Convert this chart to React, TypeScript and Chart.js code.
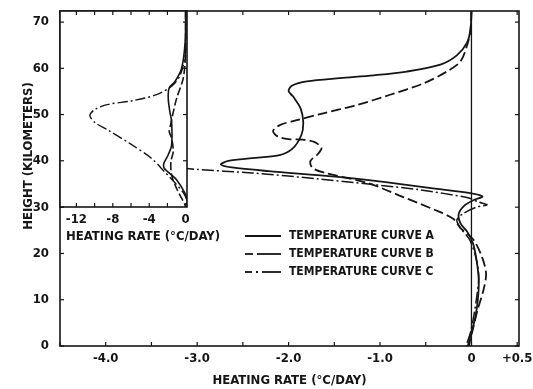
import React, { useEffect, useRef } from "react";
import { Chart, registerables } from "chart.js";

Chart.register(...registerables);

const INK = "#151515";
const FONT_FAMILY = "'Liberation Sans Narrow', 'DejaVu Sans Condensed', 'Liberation Sans', Arial, sans-serif";

// ---------- Main panel data (heating rate in °C/day vs height in km) ----------
const curveARate = [0, -0.01, -0.05, -0.16, -0.34, -0.71, -1.07, -1.44, -1.8, -1.96, -2.0, -1.95, -1.87, -1.84, -1.86, -1.96, -2.11, -2.4, -2.66, -2.74, -2.62, -2.22, -1.49, -0.94, -0.4, 0.0, 0.12, 0.03, -0.08, -0.14, -0.12, -0.04, 0.02, 0.06, 0.08, 0.07, 0.04, 0.0, -0.04];
const curveAHeight = [72.4, 68.5, 65.5, 62.8, 60.8, 59.3, 58.5, 57.9, 57.2, 56.3, 55.1, 53.9, 51.4, 48.5, 45.6, 42.6, 41.2, 40.6, 40.0, 39.2, 38.6, 37.8, 36.6, 35.4, 34.0, 33.0, 32.3, 31.6, 30.3, 28.5, 26.5, 24.5, 22, 18, 14, 10, 6, 3, 0];

const curveBRate = [0, -0.01, -0.04, -0.12, -0.27, -0.52, -0.89, -1.25, -1.62, -1.91, -2.09, -2.17, -2.12, -2.0, -1.85, -1.72, -1.64, -1.68, -1.76, -1.74, -1.6, -1.13, -0.76, -0.4, -0.2, -0.12, 0.02, 0.12, 0.16, 0.13, 0.07, 0.02, -0.03];
const curveBHeight = [72.4, 68.5, 65.5, 61.5, 59.3, 56.8, 54.3, 52.1, 50.3, 48.8, 47.8, 46.5, 45.3, 44.7, 44.6, 44.1, 42.8, 41.5, 40.0, 38.5, 37.4, 35.2, 32.3, 29.4, 27.5, 25.5, 23, 19, 15.5, 12, 8, 4, 0];

// curve C leaves the main scale above ~39 km (shown in the inset instead)
const curveCRate = [-3.6, -3.02, -2.4, -1.67, -1.13, -0.58, -0.03, 0.08, 0.17, 0.05, -0.1, -0.16, -0.12, -0.02, 0.05, 0.08, 0.06, 0.03, -0.01, -0.06];
const curveCHeight = [39.4, 38.2, 37.4, 36.1, 35.0, 33.8, 32.0, 31.1, 30.5, 30.0, 28.5, 27.2, 25.5, 23, 19, 15, 11, 7, 3, 0];

// ---------- Inset panel data ----------
const insetARate = [0, -0.05, -0.44, -1.18, -1.8, -1.91, -1.73, -1.54, -1.54, -1.91, -2.38, -2.35, -1.0, -0.08, 0.2, 0.05];
const insetAHeight = [72.4, 65.8, 60.0, 57.1, 55.8, 53.5, 50.6, 48.5, 43.4, 41.3, 39.5, 38.4, 35.9, 33.0, 31.0, 29.0];

const insetBRate = [0, -0.02, -0.26, -0.99, -1.43, -1.65, -1.8, -1.54, -1.36, -1.62, -1.54, -0.99, -0.44, -0.08, 0.05];
const insetBHeight = [72.4, 63.0, 57.9, 53.5, 49.9, 47.8, 46.3, 44.9, 42.0, 39.8, 36.9, 34.0, 31.9, 30.5, 29.5];

const insetCRate = [0, -0.03, -0.6, -1.5, -3.2, -5.8, -8.5, -9.97, -10.52, -9.97, -8.5, -6.1, -3.8, -2.3, -1.2, -0.26, 0.1, 0.15];
const insetCHeight = [72.4, 63.3, 58.5, 56.2, 54.3, 53.0, 52.2, 51.1, 49.8, 48.3, 46.6, 43.7, 40.6, 37.6, 35.3, 33.1, 31.6, 30.0];

// ---------- Axis tick labels ----------
const mainXLabelValues = [-4, -3, -2, -1, 0, 0.5];
const mainXLabelTexts = ["-4.0", "-3.0", "-2.0", "-1.0", "0", "+0.5"];
const mainYLabelValues = [0, 10, 20, 30, 40, 50, 60, 70];
const insetXLabelValues = [-12, -8, -4, 0];
const insetXLabelTexts = ["-12", "-8", "-4", "0"];

const legendLabels = ["TEMPERATURE CURVE A", "TEMPERATURE CURVE B", "TEMPERATURE CURVE C"];
const xTitle = "HEATING RATE (°C/DAY)";
const yTitle = "HEIGHT (KILOMETERS)";

const zip = (xs: number[], ys: number[]) => xs.map((x, i) => ({ x, y: ys[i] }));
const near = (a: number, b: number) => Math.abs(a - b) < 1e-6;

const tickFont = { family: FONT_FAMILY, size: 13, weight: "bold" as const };
const fontStr = (size: number) => `bold ${size}px ${FONT_FAMILY}`;

const zeroPad = (s: any) => {
  s.paddingTop = 0;
  s.paddingBottom = 0;
  s.paddingLeft = 0;
  s.paddingRight = 0;
};

function lineDs(rate: number[], height: number[], dash: number[], width: number) {
  return {
    data: zip(rate, height),
    borderColor: INK,
    borderWidth: width,
    borderDash: dash,
    pointRadius: 0,
    tension: 0.3,
    fill: false,
    capBezierPoints: false,
  };
}

function seg(ctx: CanvasRenderingContext2D, x1: number, y1: number, x2: number, y2: number) {
  ctx.beginPath();
  ctx.moveTo(x1, y1);
  ctx.lineTo(x2, y2);
  ctx.stroke();
}

const mainDecor = {
  id: "mainDecor",
  afterDraw(chart: any) {
    const ctx: CanvasRenderingContext2D = chart.ctx;
    const { left, right, top, bottom } = chart.chartArea;
    const xs = chart.scales.x;
    const ys = chart.scales.y;
    ctx.save();
    ctx.strokeStyle = INK;
    ctx.fillStyle = INK;
    ctx.lineWidth = 1.6;
    ctx.strokeRect(left, top, right - left, bottom - top);
    const x0 = xs.getPixelForValue(0);
    ctx.lineWidth = 1.3;
    seg(ctx, x0, top, x0, bottom);
    ctx.lineWidth = 1.2;
    xs.ticks.forEach((t: any) => {
      const x = xs.getPixelForValue(t.value);
      seg(ctx, x, bottom, x, bottom - 4);
      seg(ctx, x, top, x, top + 4);
    });
    ys.ticks.forEach((t: any) => {
      const y = ys.getPixelForValue(t.value);
      seg(ctx, left, y, left + 4, y);
      seg(ctx, right, y, right - 4, y);
    });
    // axis titles
    ctx.font = fontStr(13);
    ctx.textAlign = "center";
    ctx.textBaseline = "middle";
    ctx.fillText(xTitle, (left + right) / 2, 381);
    ctx.save();
    ctx.translate(29, 156);
    ctx.rotate(-Math.PI / 2);
    ctx.fillText(yTitle, 0, 0);
    ctx.restore();
    // legend
    const rows = [236, 254, 272];
    ctx.lineWidth = 1.8;
    seg(ctx, 245, rows[0], 281, rows[0]);
    seg(ctx, 245, rows[1], 253, rows[1]);
    seg(ctx, 257, rows[1], 281, rows[1]);
    seg(ctx, 245, rows[2], 252, rows[2]);
    seg(ctx, 256, rows[2], 258, rows[2]);
    seg(ctx, 262, rows[2], 281, rows[2]);
    ctx.font = fontStr(12);
    ctx.textAlign = "left";
    legendLabels.forEach((t, i) => ctx.fillText(t, 289, rows[i]));
    ctx.restore();
  },
};

const insetDecor = {
  id: "insetDecor",
  beforeDraw(chart: any) {
    const ctx: CanvasRenderingContext2D = chart.ctx;
    const { left, right, top, bottom } = chart.chartArea;
    ctx.save();
    ctx.fillStyle = "#ffffff";
    ctx.fillRect(left, top, right - left, bottom - top);
    ctx.restore();
  },
  afterDraw(chart: any) {
    const ctx: CanvasRenderingContext2D = chart.ctx;
    const { left, right, top, bottom } = chart.chartArea;
    const xs = chart.scales.x;
    const ys = chart.scales.y;
    ctx.save();
    ctx.strokeStyle = INK;
    ctx.fillStyle = INK;
    ctx.lineWidth = 1.6;
    ctx.strokeRect(left, top, right - left, bottom - top);
    ctx.lineWidth = 1.2;
    xs.ticks.forEach((t: any) => {
      const x = xs.getPixelForValue(t.value);
      seg(ctx, x, bottom, x, bottom - 4);
      seg(ctx, x, top, x, top + 4);
    });
    ys.ticks.forEach((t: any) => {
      const y = ys.getPixelForValue(t.value);
      seg(ctx, left, y, left + 4, y);
      if (t.value > 30) seg(ctx, right, y, right - 4, y);
    });
    ctx.font = fontStr(13);
    ctx.textAlign = "left";
    ctx.textBaseline = "middle";
    ctx.fillText(xTitle, 66, 237);
    ctx.restore();
  },
};

export default function App() {
  const mainRef = useRef<HTMLCanvasElement | null>(null);
  const insetRef = useRef<HTMLCanvasElement | null>(null);

  useEffect(() => {
    if (!mainRef.current || !insetRef.current) return;
    const main = new Chart(mainRef.current, {
      type: "line",
      data: {
        datasets: [
          lineDs(curveARate, curveAHeight, [], 1.8),
          lineDs(curveBRate, curveBHeight, [10, 4], 1.8),
          lineDs(curveCRate, curveCHeight, [12, 3, 2, 3], 1.5),
        ] as any,
      },
      options: {
        responsive: false,
        animation: false,
        devicePixelRatio: 1,
        layout: { padding: { left: 0, right: 14, top: 11, bottom: 0 } },
        plugins: { legend: { display: false }, tooltip: { enabled: false } },
        scales: {
          x: {
            type: "linear",
            min: -4.5,
            max: 0.52,
            afterFit: (s: any) => {
              s.height = 43;
              zeroPad(s);
            },
            grid: { display: false, drawTicks: false },
            border: { display: false },
            ticks: {
              stepSize: 0.5,
              includeBounds: false,
              autoSkip: false,
              maxRotation: 0,
              padding: 5,
              color: INK,
              font: tickFont,
              callback: (v: any) => {
                const i = mainXLabelValues.findIndex((m) => near(m, Number(v)));
                return i >= 0 ? mainXLabelTexts[i] : "";
              },
            },
          },
          y: {
            type: "linear",
            min: 0,
            max: 72.4,
            afterFit: (s: any) => {
              s.width = 60;
              zeroPad(s);
            },
            grid: { display: false, drawTicks: false },
            border: { display: false },
            ticks: {
              stepSize: 10,
              includeBounds: false,
              autoSkip: false,
              padding: 11,
              color: INK,
              font: tickFont,
              callback: (v: any) => (mainYLabelValues.some((m) => near(m, Number(v))) ? String(v) : ""),
            },
          },
        },
      } as any,
      plugins: [mainDecor],
    });

    const inset = new Chart(insetRef.current, {
      type: "line",
      data: {
        datasets: [
          lineDs(insetARate, insetAHeight, [], 1.6),
          lineDs(insetBRate, insetBHeight, [8, 3], 1.6),
          lineDs(insetCRate, insetCHeight, [10, 3, 2, 3], 1.4),
        ] as any,
      },
      options: {
        responsive: false,
        animation: false,
        devicePixelRatio: 1,
        layout: { padding: { left: 60, right: 346, top: 11, bottom: 0 } },
        plugins: { legend: { display: false }, tooltip: { enabled: false } },
        scales: {
          x: {
            type: "linear",
            min: -13.8,
            max: 0.15,
            afterFit: (s: any) => {
              s.height = 182;
              zeroPad(s);
            },
            grid: { display: false, drawTicks: false },
            border: { display: false },
            ticks: {
              stepSize: 2,
              includeBounds: false,
              autoSkip: false,
              maxRotation: 0,
              padding: 5,
              color: INK,
              font: tickFont,
              callback: (v: any) => {
                const i = insetXLabelValues.findIndex((m) => near(m, Number(v)));
                return i >= 0 ? insetXLabelTexts[i] : "";
              },
            },
          },
          y: {
            type: "linear",
            display: false,
            min: 30,
            max: 72.4,
            ticks: { stepSize: 10, includeBounds: false },
          },
        },
      } as any,
      plugins: [insetDecor],
    });

    return () => {
      main.destroy();
      inset.destroy();
    };
  }, []);

  return (
    <div style={{ position: "absolute", left: 0, top: 0, width: 533, height: 389, background: "#ffffff" }}>
      <canvas ref={mainRef} width={533} height={389} style={{ position: "absolute", left: 0, top: 0 }} />
      <canvas ref={insetRef} width={533} height={389} style={{ position: "absolute", left: 0, top: 0 }} />
    </div>
  );
}
